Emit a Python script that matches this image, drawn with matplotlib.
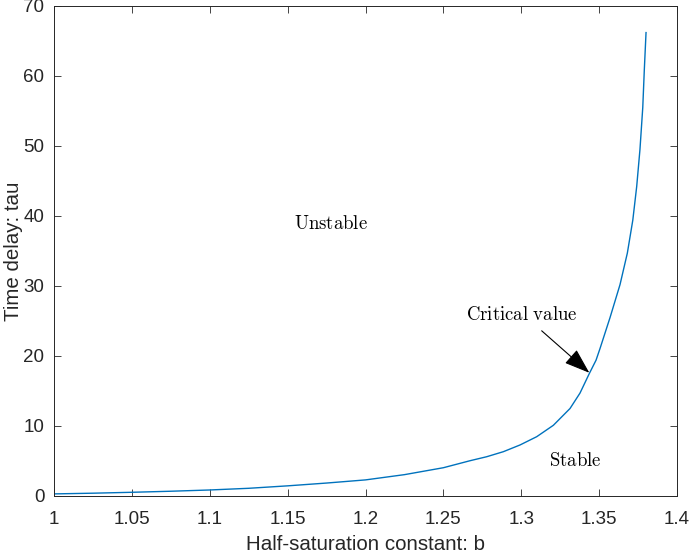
import matplotlib
matplotlib.use('Agg')
import matplotlib.pyplot as plt

# values
b_values = [1.0, 1.025, 1.05, 1.075, 1.1, 1.125, 1.15, 1.175, 1.2, 1.225, 1.25,
            1.2671, 1.2778, 1.2885, 1.2992, 1.3099, 1.3206, 1.3313, 1.3377, 1.3437,
            1.3480, 1.3506, 1.3570, 1.3634, 1.3681, 1.3716, 1.3741, 1.3762, 1.3780,
            1.3790, 1.3801]
tau_values = [0.3, 0.4, 0.53, 0.68, 0.86, 1.1, 1.45, 1.85, 2.3, 3.05, 4.04,
              5.04, 5.61, 6.33, 7.29, 8.47, 10.1, 12.5, 14.7, 17.5,
              19.4, 21.1, 25.5, 30.2, 34.7, 39.4, 44.2, 49.5, 55.5,
              60.9, 66.2]

x_ticks = [1, 1.05, 1.1, 1.15, 1.2, 1.25, 1.3, 1.35, 1.4]
x_tick_labels = ['1', '1.05', '1.1', '1.15', '1.2', '1.25', '1.3', '1.35', '1.4']
y_ticks = [0, 10, 20, 30, 40, 50, 60, 70]

plt.rcParams['mathtext.fontset'] = 'cm'
plt.rcParams['font.family'] = ['Liberation Sans', 'DejaVu Sans']

axis_color = '#262626'

fig = plt.figure(figsize=(6.9, 5.54), dpi=100)
ax = fig.add_axes([0.0783, 0.1047, 0.9812 - 0.0783, 0.9892 - 0.1047])

ax.plot(b_values, tau_values, color='#0072BD', linewidth=1.0)

ax.set_xlim(1, 1.4)
ax.set_ylim(0, 70)
ax.set_xticks(x_ticks)
ax.set_xticklabels(x_tick_labels)
ax.set_yticks(y_ticks)
ax.tick_params(direction='in', top=True, right=True, length=5, width=0.6,
               colors=axis_color, labelsize=13.5)
ax.tick_params(axis='x', pad=11)
ax.tick_params(axis='y', pad=7)
for side in ax.spines.values():
    side.set_color(axis_color)
    side.set_linewidth(0.7)

ax.set_xlabel('Half-saturation constant: b', fontsize=14.8, color=axis_color, labelpad=5)
ax.set_ylabel('Time delay: tau', fontsize=14.8, color=axis_color, labelpad=0)

ax.text(1.1779, 38.9, r'$\mathrm{Unstable}$', fontsize=13.5, ha='center', va='center')
ax.text(1.3348, 5.0, r'$\mathrm{Stable}$', fontsize=13.5, ha='center', va='center')
ax.text(1.3005, 25.8, r'$\mathrm{Critical\ value}$', fontsize=13.5, ha='center', va='center')
ax.annotate('', xy=(1.3437, 17.6), xytext=(1.3131, 23.6),
            arrowprops=dict(arrowstyle='-|>,head_length=1.0,head_width=0.35',
                            color='black', lw=0.8, mutation_scale=16,
                            shrinkA=0, shrinkB=0))

fig.savefig('out.png', dpi=100)
